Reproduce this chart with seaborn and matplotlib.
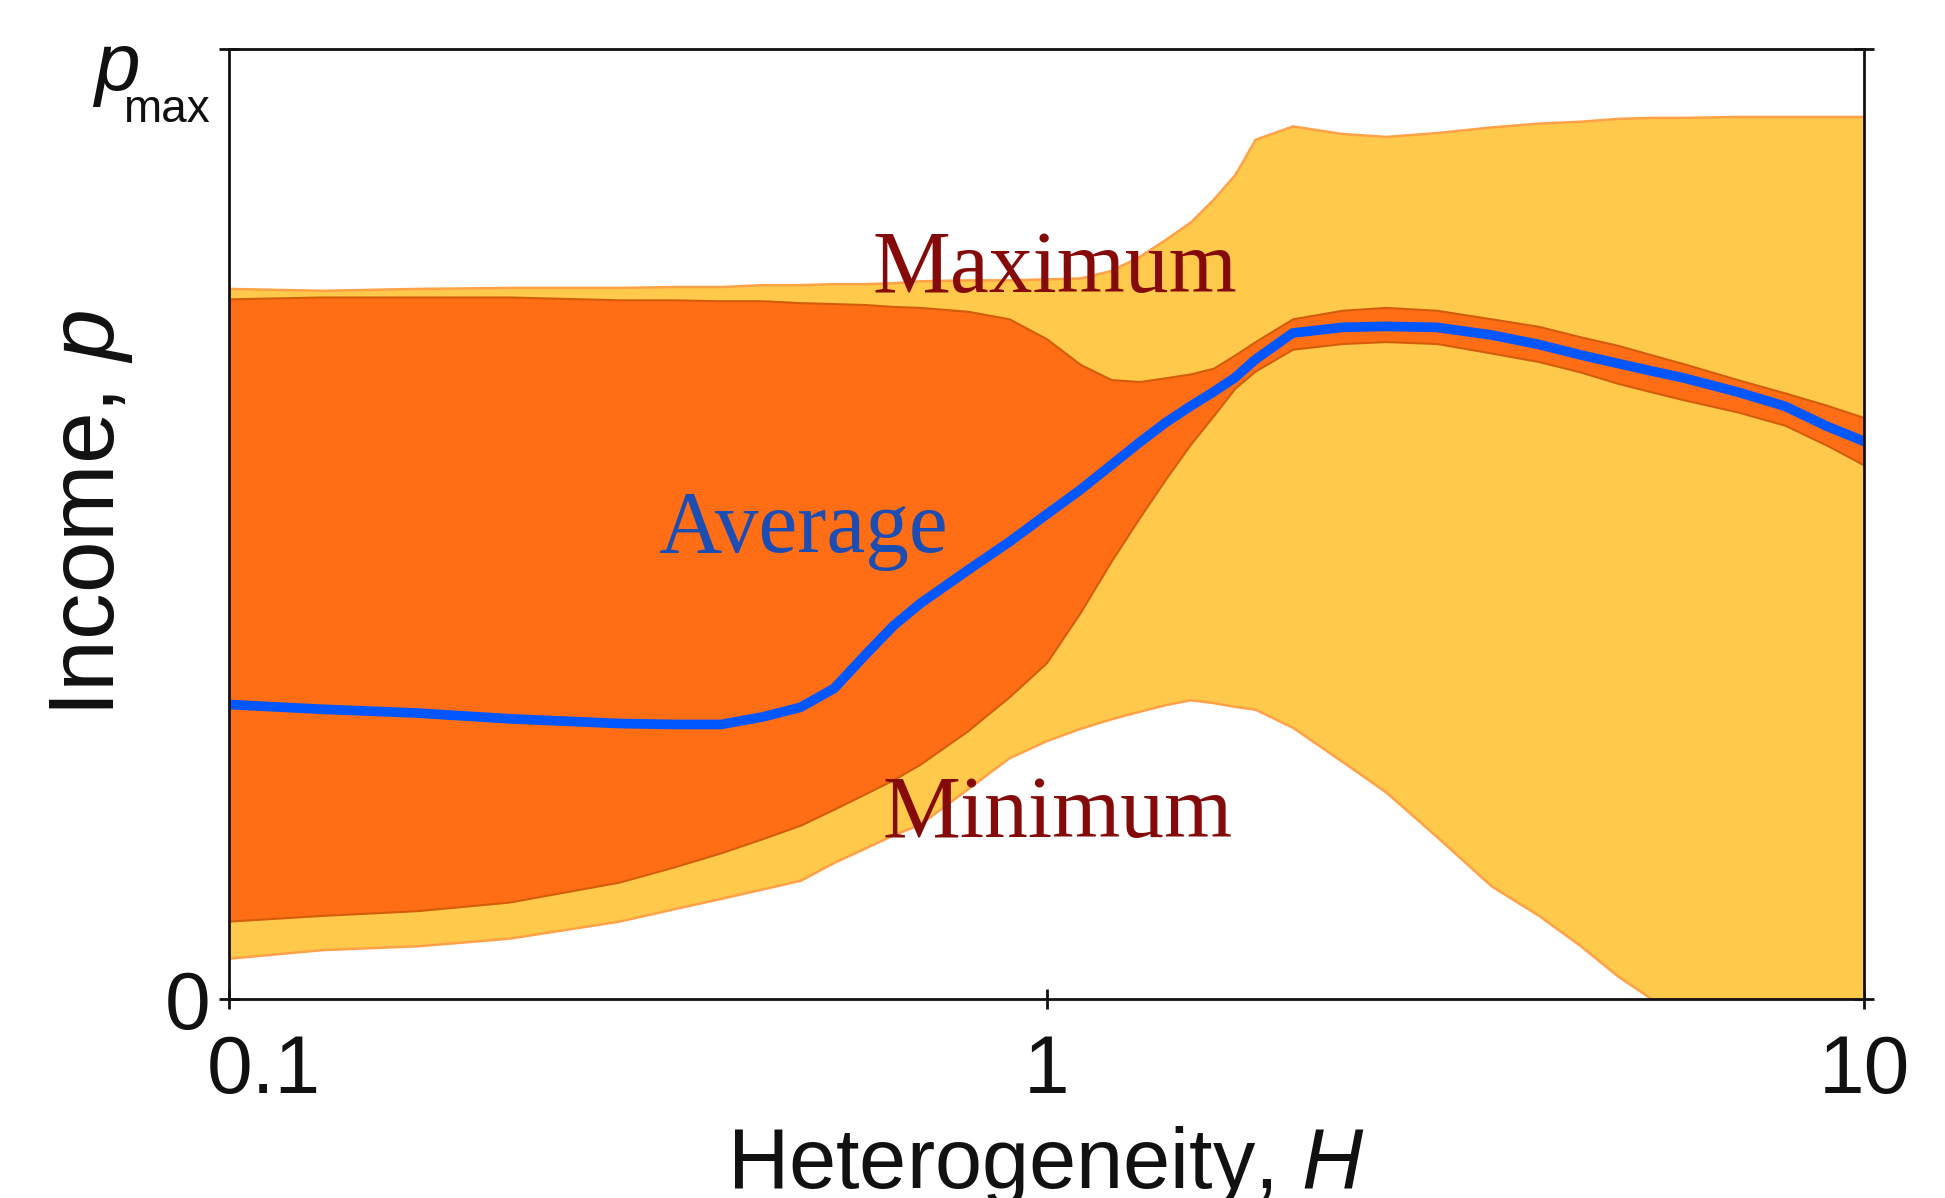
import matplotlib
matplotlib.use('Agg')
import matplotlib.pyplot as plt
import matplotlib.transforms as mtransforms
from matplotlib.ticker import NullLocator
import seaborn as sns

# heterogeneity H (log axis) and income in units of p_max
H = [0.1, 0.13, 0.17, 0.22, 0.3, 0.35, 0.4, 0.45, 0.5, 0.55, 0.6, 0.65, 0.7,
     0.8, 0.9, 1.0, 1.1, 1.2, 1.3, 1.4, 1.5, 1.6, 1.7, 1.8, 2.0, 2.3, 2.6,
     3.0, 3.5, 4.0, 4.5, 5.0, 5.5, 6.0, 7.0, 8.0, 9.0, 10.0]

# outer band (overall maximum / minimum)
p_top = [0.748, 0.746, 0.748, 0.749, 0.749, 0.750, 0.750, 0.752, 0.752, 0.753,
         0.753, 0.754, 0.756, 0.757, 0.757, 0.758, 0.759, 0.767, 0.782, 0.800,
         0.818, 0.842, 0.868, 0.905, 0.919, 0.911, 0.908, 0.912, 0.918, 0.922,
         0.924, 0.927, 0.928, 0.928, 0.929, 0.929, 0.929, 0.929]
p_bottom = [0.043, 0.052, 0.056, 0.064, 0.082, 0.095, 0.106, 0.116, 0.125, 0.144,
            0.159, 0.173, 0.184, 0.221, 0.254, 0.272, 0.285, 0.295, 0.303, 0.310,
            0.315, 0.312, 0.308, 0.305, 0.286, 0.250, 0.218, 0.171, 0.119, 0.088,
            0.056, 0.024, 0.0, 0.0, 0.0, 0.0, 0.0, 0.0]

# inner band
p_upper = [0.737, 0.739, 0.739, 0.739, 0.736, 0.736, 0.735, 0.735, 0.733, 0.732,
           0.731, 0.729, 0.728, 0.724, 0.716, 0.695, 0.668, 0.652, 0.650, 0.654,
           0.658, 0.664, 0.678, 0.692, 0.716, 0.725, 0.728, 0.725, 0.716, 0.708,
           0.697, 0.688, 0.678, 0.669, 0.652, 0.638, 0.625, 0.612]
p_lower = [0.082, 0.088, 0.093, 0.102, 0.123, 0.139, 0.154, 0.169, 0.183, 0.200,
           0.216, 0.231, 0.247, 0.282, 0.318, 0.354, 0.407, 0.461, 0.507, 0.548,
           0.584, 0.614, 0.643, 0.661, 0.684, 0.690, 0.692, 0.690, 0.680, 0.671,
           0.660, 0.648, 0.639, 0.631, 0.618, 0.604, 0.583, 0.562]

# average income
p_avg = [0.310, 0.305, 0.301, 0.295, 0.290, 0.289, 0.289, 0.297, 0.307, 0.327,
         0.362, 0.393, 0.416, 0.451, 0.481, 0.510, 0.536, 0.562, 0.586, 0.607,
         0.624, 0.639, 0.654, 0.673, 0.701, 0.707, 0.708, 0.707, 0.699, 0.689,
         0.678, 0.669, 0.661, 0.654, 0.639, 0.624, 0.603, 0.587]

x_ticks = [0.1, 1, 10]
x_tick_labels = ['0.1', '1', '10']
y_ticks = [0, 1]
y_tick_labels = ['0', '$p$']

YELLOW = '#FFC94C'
YELLOW_EDGE = '#FFA247'
ORANGE = '#FF6E15'
ORANGE_EDGE = '#D45D0C'
BLUE = '#0057FF'
DARKRED = '#850B0B'
AVG_TXT = '#1B4DB3'
INK = '#111111'

sns.set_theme(style='white')
plt.rcParams['font.family'] = ['Liberation Sans', 'DejaVu Sans']
plt.rcParams['mathtext.fontset'] = 'custom'
plt.rcParams['mathtext.rm'] = 'Liberation Sans'
plt.rcParams['mathtext.it'] = 'Liberation Sans:italic'

fig = plt.figure(figsize=(19.45, 11.98), dpi=100)
ax = fig.add_axes([0.1177, 0.1661, 0.8407, 0.7930])
ax.set_xscale('log')

ax.fill_between(H, p_bottom, p_top, facecolor=YELLOW, edgecolor=YELLOW_EDGE,
                linewidth=1.8, zorder=1)
ax.fill_between(H, p_lower, p_upper, facecolor=ORANGE, edgecolor=ORANGE_EDGE,
                linewidth=1.5, zorder=2)
sns.lineplot(x=H, y=p_avg, ax=ax, color=BLUE, linewidth=7, zorder=3)

serif = ['Liberation Serif', 'DejaVu Serif']
ax.text(1.025, 0.744, 'Maximum', color=DARKRED, fontsize=63, family=serif,
        ha='center', va='baseline', zorder=4)
ax.text(0.503, 0.471, 'Average', color=AVG_TXT, fontsize=63, family=serif,
        ha='center', va='baseline', zorder=4)
ax.text(1.033, 0.171, 'Minimum', color=DARKRED, fontsize=63, family=serif,
        ha='center', va='baseline', zorder=4)

ax.set_xlim(0.1, 10)
ax.set_ylim(0, 1)
ax.set_xticks(x_ticks)
ax.set_xticklabels(x_tick_labels)
ax.xaxis.set_minor_locator(NullLocator())
ax.set_yticks(y_ticks)
ax.set_yticklabels(y_tick_labels)

for s in ax.spines.values():
    s.set_color(INK)
    s.set_linewidth(2)
    s.set_zorder(5)

ax.tick_params(axis='x', which='major', bottom=True, direction='inout', length=14,
               width=2, pad=18, labelsize=59, color=INK, labelcolor=INK)
ax.tick_params(axis='y', which='major', left=True, right=True, direction='inout',
               length=14, width=2, pad=6, labelsize=59, color=INK, labelcolor=INK)

# shift the first x label to the right; p of p_max sits just under the top spine
lab = ax.get_xticklabels()[0]
lab.set_transform(lab.get_transform() +
                  mtransforms.ScaledTranslation(0.35, 0, fig.dpi_scale_trans))
pm = ax.get_yticklabels()[1]
pm.set_va('baseline')
pm.set_transform(pm.get_transform() +
                 mtransforms.ScaledTranslation(-0.72, -0.41, fig.dpi_scale_trans))
# low-hanging "max" subscript
ax.text(-0.0645, 0.923, 'max', transform=ax.transAxes, fontsize=33, color=INK,
        ha='left', va='baseline', clip_on=False)

ax.set_xlabel('Heterogeneity, $H$', fontsize=61, color=INK)
ax.xaxis.set_label_coords(0.5, -0.199)
ax.xaxis.label.set_va('baseline')
ax.set_ylabel('Income, $p$', fontsize=67, color=INK)
ax.yaxis.set_label_coords(-0.084, 0.511)
ax.yaxis.label.set_va('center')

fig.savefig('out.png', dpi=100)
